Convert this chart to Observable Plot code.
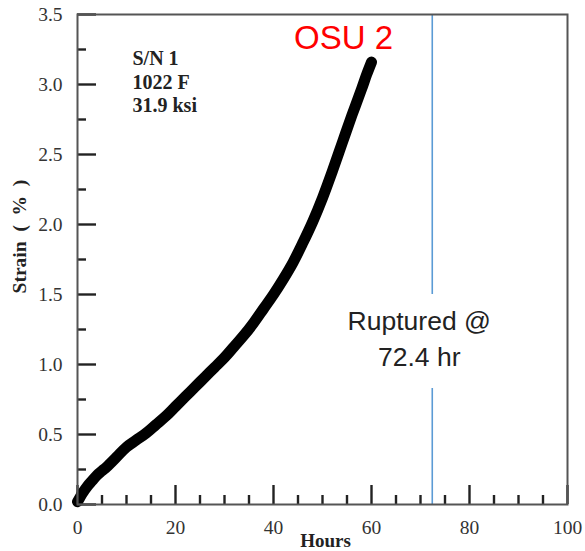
<!DOCTYPE html>
<html>
<head>
<meta charset="utf-8">
<script src="https://cdn.jsdelivr.net/npm/d3@7"></script>
<script src="https://cdn.jsdelivr.net/npm/@observablehq/plot@0.6"></script>
<style>html,body{margin:0;padding:0;background:#fff;}</style>
</head>
<body>
<div id="chart"></div>
<script>
// ---- data ----
const hours  = [0, 0.5, 1, 2, 3, 4, 5, 6, 8, 10, 12, 14, 16, 18, 20, 22, 24, 26, 28, 30, 32, 34, 36, 38, 40, 42, 44, 46, 48, 50, 52, 54, 56, 58, 59, 60];
const strain = [0.02, 0.05, 0.08, 0.13, 0.17, 0.21, 0.24, 0.27, 0.34, 0.41, 0.46, 0.51, 0.57, 0.63, 0.70, 0.77, 0.84, 0.91, 0.98, 1.05, 1.13, 1.21, 1.30, 1.40, 1.50, 1.61, 1.73, 1.87, 2.02, 2.19, 2.38, 2.58, 2.78, 2.97, 3.07, 3.16];
const xMajorTicks = [0, 20, 40, 60, 80, 100];
const xMinorTicks = [5, 10, 15, 25, 30, 35, 45, 50, 55, 65, 70, 75, 85, 90, 95];
const yMajorTicks = [0, 0.5, 1, 1.5, 2, 2.5, 3, 3.5];
const yMinorTicks = [0.25, 0.75, 1.25, 1.75, 2.25, 2.75, 3.25];
const ruptureHours = [72.4];
const specimenText = "S/N 1\n1022 F\n31.9 ksi";
const seriesLabel = "OSU 2";
const ruptureLabel = "Ruptured @\n72.4 hr";
const xTitle = "Hours";
const yTitle = "Strain\u2002(\u2002%\u2002)";

const data = hours.map((h, i) => ({h, s: strain[i]}));
const serif = "'Liberation Serif', 'Times New Roman', serif";
const sans = "'Liberation Sans', Arial, sans-serif";
const tickStyle = {stroke: "#222", strokeWidth: 2.4};

const chart = Plot.plot({
  width: 585,
  height: 551,
  marginLeft: 77,
  marginRight: 18,
  marginTop: 14,
  marginBottom: 47,
  x: {domain: [0, 100]},
  y: {domain: [0, 3.5]},
  style: {fontFamily: serif, fontSize: "19px", background: "white", overflow: "visible"},
  marks: [
    Plot.ruleX(ruptureHours, {x: d => d, stroke: "#5b9bd5", strokeWidth: 1.6, insetBottom: 210}),
    Plot.ruleX(ruptureHours, {x: d => d, stroke: "#5b9bd5", strokeWidth: 1.6, insetTop: 374}),
    Plot.line(data, {x: "h", y: "s", curve: "catmull-rom", stroke: "black", strokeWidth: 11, strokeLinecap: "round", strokeLinejoin: "round"}),
    // inward ticks (major 19px, minor 9px)
    Plot.ruleX(xMajorTicks, {x: d => d, insetTop: 471, ...tickStyle}),
    Plot.ruleX(xMinorTicks, {x: d => d, insetTop: 481, ...tickStyle}),
    Plot.ruleY(yMajorTicks, {y: d => d, insetRight: 471, ...tickStyle}),
    Plot.ruleY(yMinorTicks, {y: d => d, insetRight: 481, ...tickStyle}),
    Plot.frame({stroke: "#555", strokeWidth: 2}),
    // tick labels
    Plot.axisX(xMajorTicks, {tickSize: 0, tickPadding: 16, fontSize: 19.5, color: "#333", label: null}),
    Plot.axisY(yMajorTicks, {tickSize: 0, tickPadding: 15, tickFormat: d3.format(".1f"), fontSize: 19.5, color: "#333", label: null}),
    Plot.text([xTitle], {frameAnchor: "bottom", lineAnchor: "middle", textAnchor: "middle", dx: 3, dy: 36, fontWeight: "bold", fontSize: 19, fill: "#222"}),
    Plot.text([yTitle], {frameAnchor: "left", lineAnchor: "middle", textAnchor: "middle", rotate: -90, dx: -58, dy: -23, fontWeight: "bold", fontSize: 19.5, fill: "#222"}),
    Plot.text([specimenText], {frameAnchor: "top-left", textAnchor: "start", lineAnchor: "top", dx: 55, dy: 34, fontWeight: "bold", fontSize: 20, lineHeight: 1.17, fill: "#222"}),
    Plot.text([seriesLabel], {frameAnchor: "top", lineAnchor: "middle", textAnchor: "start", dx: -28.5, dy: 24.4, fontFamily: sans, fontSize: 33, fill: "#ff0000"}),
    Plot.text(ruptureHours, {x: d => d, text: () => ruptureLabel, frameAnchor: "middle", lineAnchor: "middle", textAnchor: "middle", dx: -13, dy: 77, fontFamily: sans, fontSize: 26.5, lineHeight: 1.36, fill: "#222"})
  ]
});
document.getElementById("chart").appendChild(chart);
</script>
</body>
</html>
